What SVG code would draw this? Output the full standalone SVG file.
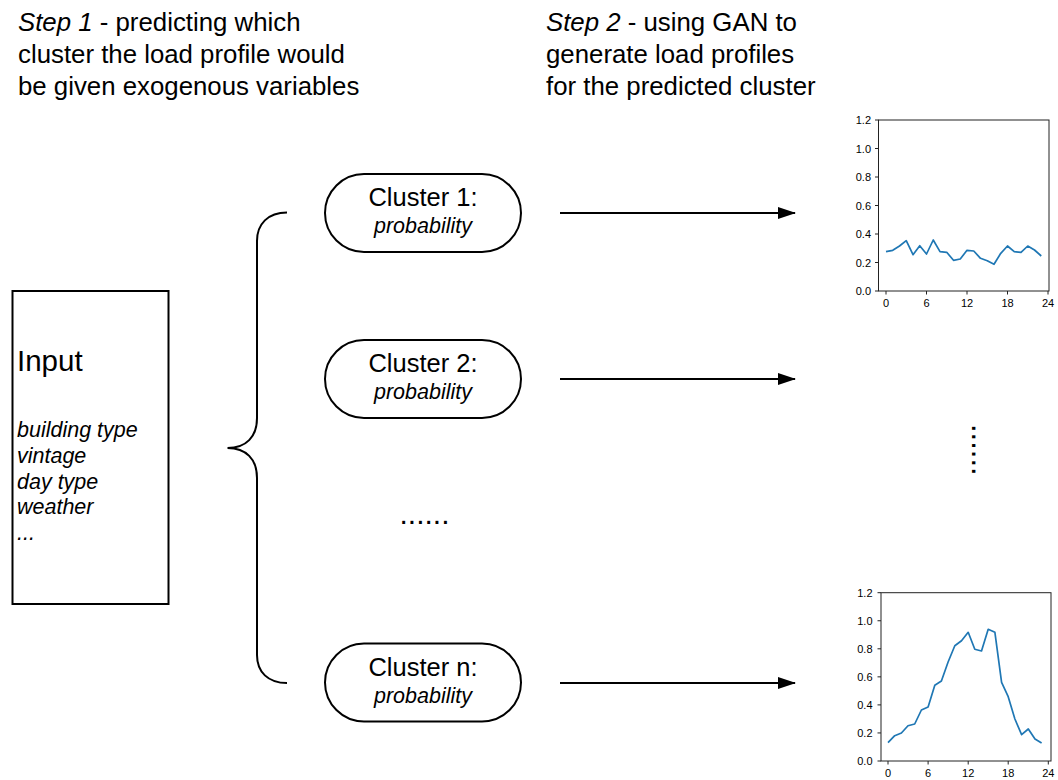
<svg xmlns="http://www.w3.org/2000/svg" width="1058" height="780" viewBox="0 0 1058 780">
  <style>
    text { font-family: "Liberation Sans", Arial, sans-serif; fill: #000; }
    .head { font-size: 25.8px; }
    .it { font-style: italic; }
    .pill { fill: #fff; stroke: #000; stroke-width: 2; }
    .lbl { font-size: 25.5px; text-anchor: middle; }
    .prob { font-size: 21.5px; font-style: italic; text-anchor: middle; }
    .conn { fill: none; stroke: #000; stroke-width: 2; }
    .frame { fill: none; stroke: #222; stroke-width: 1; }
    .tick { stroke: #222; stroke-width: 1; }
    .tl { font-family: "DejaVu Sans", sans-serif; font-size: 11px; fill: #262626; }
    .tly { text-anchor: end; }
    .tlx { text-anchor: middle; }
    .series { fill: none; stroke: #1f77b4; stroke-width: 1.7; stroke-linejoin: round; }
  </style>
  <defs>
    <marker id="arrow" markerWidth="18" markerHeight="12" refX="17" refY="6" orient="auto" markerUnits="userSpaceOnUse" viewBox="0 0 18 12">
      <path d="M0,0 L18,6 L0,12 Z" fill="#000"/>
    </marker>
  </defs>
  <rect width="1058" height="780" fill="#fff"/>

  <!-- headings -->
  <g id="step1">
    <text class="head" x="18" y="31"><tspan class="it">Step 1</tspan> - predicting which</text>
    <text class="head" x="18" y="63">cluster the load profile would</text>
    <text class="head" x="18" y="95">be given exogenous variables</text>
  </g>
  <g id="step2">
    <text class="head" x="546" y="31"><tspan class="it">Step 2</tspan> - using GAN to</text>
    <text class="head" x="546" y="63">generate load profiles</text>
    <text class="head" x="546" y="95">for the predicted cluster</text>
  </g>

  <!-- input box -->
  <g id="input">
    <rect x="12.5" y="291" width="156" height="313" fill="#fff" stroke="#000" stroke-width="2"/>
    <text x="17" y="371" style="font-size:29.5px">Input</text>
    <text class="it" x="17" y="437" style="font-size:21.5px">building type</text>
    <text class="it" x="17" y="463" style="font-size:21.5px">vintage</text>
    <text class="it" x="17" y="489" style="font-size:21.5px">day type</text>
    <text class="it" x="17" y="514" style="font-size:21.5px">weather</text>
    <text class="it" x="17" y="540" style="font-size:21.5px">...</text>
  </g>

  <!-- cluster nodes -->
  <g id="cluster1">
    <rect class="pill" x="325" y="174" width="196" height="78" rx="39" ry="39"/>
    <text class="lbl" x="423" y="206">Cluster 1:</text>
    <text class="prob" x="423" y="233">probability</text>
  </g>
  <g id="cluster2">
    <rect class="pill" x="325" y="340" width="196" height="78" rx="39" ry="39"/>
    <text class="lbl" x="423" y="372">Cluster 2:</text>
    <text class="prob" x="423" y="399">probability</text>
  </g>
  <g id="clusterN">
    <rect class="pill" x="325" y="643.5" width="196" height="78" rx="39" ry="39"/>
    <text class="lbl" x="423" y="675.5">Cluster n:</text>
    <text class="prob" x="423" y="702.5">probability</text>
  </g>
  <g id="ellipsis">
    <text x="399.5" y="524" style="font-size:30px">......</text>
  </g>

  <!-- connectors -->
  <g id="connectors">
    <path class="conn" d="M287,212.5 C268,212.5 257,224 257,241 L257,418 C257,437 246,448 227.5,448 C246,448 257,459 257,478 L257,655 C257,672 268,683 287,683"/>
    <line class="conn" x1="560" y1="213" x2="795" y2="213" marker-end="url(#arrow)"/>
    <line class="conn" x1="560" y1="379" x2="795" y2="379" marker-end="url(#arrow)"/>
    <line class="conn" x1="560" y1="683" x2="795" y2="683" marker-end="url(#arrow)"/>
  </g>

  <!-- upper generated profile -->
  <g id="chart1">
    <rect class="frame" x="878.5" y="120" width="170.5" height="171"/>
    <g class="tick">
      <line x1="875" y1="291" x2="878.5" y2="291"/>
      <line x1="875" y1="262.5" x2="878.5" y2="262.5"/>
      <line x1="875" y1="234" x2="878.5" y2="234"/>
      <line x1="875" y1="205.5" x2="878.5" y2="205.5"/>
      <line x1="875" y1="177" x2="878.5" y2="177"/>
      <line x1="875" y1="148.5" x2="878.5" y2="148.5"/>
      <line x1="875" y1="120" x2="878.5" y2="120"/>
      <line x1="886" y1="291" x2="886" y2="294.5"/>
      <line x1="926.5" y1="291" x2="926.5" y2="294.5"/>
      <line x1="967" y1="291" x2="967" y2="294.5"/>
      <line x1="1007.5" y1="291" x2="1007.5" y2="294.5"/>
      <line x1="1048" y1="291" x2="1048" y2="294.5"/>
    </g>
    <g class="tl tly">
      <text x="871" y="295">0.0</text>
      <text x="871" y="266.5">0.2</text>
      <text x="871" y="238">0.4</text>
      <text x="871" y="209.5">0.6</text>
      <text x="871" y="181">0.8</text>
      <text x="871" y="152.5">1.0</text>
      <text x="871" y="124">1.2</text>
    </g>
    <g class="tl tlx">
      <text x="886" y="307">0</text>
      <text x="926.5" y="307">6</text>
      <text x="967" y="307">12</text>
      <text x="1007.5" y="307">18</text>
      <text x="1048" y="307">24</text>
    </g>
    <polyline class="series" points="886,251.7 892.75,250.3 899.5,246 906.25,240.7 913,254.7 919.75,245.7 926.5,254 933.25,240 940,251.7 946.75,252.3 953.5,260.3 960.25,259 967,250.3 973.75,251 980.5,258.3 987.25,260.7 994,264.3 1000.75,253.3 1007.5,246 1014.25,251.7 1021,252.3 1027.75,246 1034.5,250 1041.25,256"/>
  </g>

  <g id="vdots">
    <text x="0" y="0" transform="translate(971.5,424) rotate(90)" style="font-size:31px">......</text>
  </g>

  <!-- lower generated profile -->
  <g id="chartN">
    <rect class="frame" x="881" y="592.7" width="170" height="168.3"/>
    <g class="tick">
      <line x1="877.5" y1="761" x2="881" y2="761"/>
      <line x1="877.5" y1="732.95" x2="881" y2="732.95"/>
      <line x1="877.5" y1="704.9" x2="881" y2="704.9"/>
      <line x1="877.5" y1="676.85" x2="881" y2="676.85"/>
      <line x1="877.5" y1="648.8" x2="881" y2="648.8"/>
      <line x1="877.5" y1="620.75" x2="881" y2="620.75"/>
      <line x1="877.5" y1="592.7" x2="881" y2="592.7"/>
      <line x1="888" y1="761" x2="888" y2="764.5"/>
      <line x1="928.1" y1="761" x2="928.1" y2="764.5"/>
      <line x1="968.2" y1="761" x2="968.2" y2="764.5"/>
      <line x1="1008.2" y1="761" x2="1008.2" y2="764.5"/>
      <line x1="1048.3" y1="761" x2="1048.3" y2="764.5"/>
    </g>
    <g class="tl tly">
      <text x="872.5" y="765">0.0</text>
      <text x="872.5" y="737">0.2</text>
      <text x="872.5" y="709">0.4</text>
      <text x="872.5" y="681">0.6</text>
      <text x="872.5" y="653">0.8</text>
      <text x="872.5" y="625">1.0</text>
      <text x="872.5" y="597">1.2</text>
    </g>
    <g class="tl tlx">
      <text x="888" y="777">0</text>
      <text x="928.1" y="777">6</text>
      <text x="968.2" y="777">12</text>
      <text x="1008.2" y="777">18</text>
      <text x="1048.3" y="777">24</text>
    </g>
    <polyline class="series" points="888,742.7 894.7,735.7 901.4,733 908,725.7 914.7,724 921.4,710 928.1,707 934.8,685.3 941.4,681 948.1,662 954.8,645.7 961.5,640.7 968.2,632.3 974.8,649.3 981.5,651 988.2,629.3 994.9,632.3 1001.6,682.3 1008.2,696.7 1014.9,719 1021.6,734.7 1028.3,729 1035,739 1041.6,743"/>
  </g>
</svg>
